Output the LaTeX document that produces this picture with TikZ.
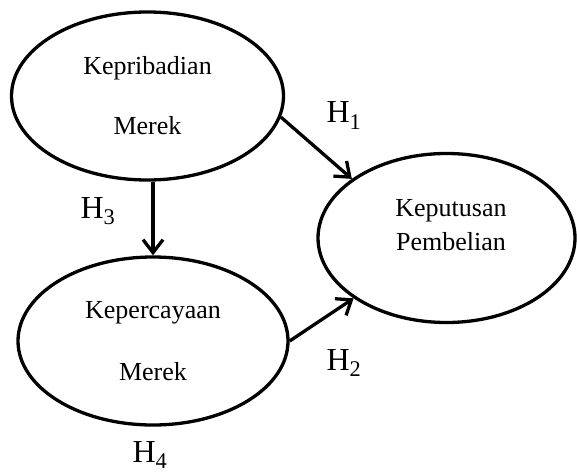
\documentclass[tikz,border=0pt]{standalone}
\usepackage{fontspec}
\setmainfont{Liberation Serif}
\usetikzlibrary{shapes.geometric,arrows.meta}
\tikzset{
	var/.style={ellipse,draw,line width=3.3pt,inner sep=0pt,align=center,font=\fontsize{26}{31}\selectfont},
	hyp/.style={anchor=base,inner sep=0pt,font=\fontsize{32}{38}\selectfont}
}
\begin{document}
\begin{tikzpicture}[x=1pt,y=-1pt,>={Straight Barb[length=13pt,width=20pt]}]
		\useasboundingbox (0,0) rectangle (577,473);
		\node [var,minimum width=272pt,minimum height=168pt] (kb) at (147.5,96) {Kepribadian\\[29pt]Merek};
		\node [var,minimum width=270pt,minimum height=168pt] (kc) at (153,341) {Kepercayaan\\[31pt]Merek};
		\node [var,minimum width=257pt,minimum height=169pt] (kp) at (446.5,238) {};
		\node [align=center,font=\fontsize{26}{31}\selectfont] (kpt) at (451,225) {Keputusan\\[3pt]Pembelian};
		\draw [line width=3.3pt,->] (kb.-9)--(kp.148);
		\draw [line width=3.3pt,->] (kc.east)--(kp.213);
		\draw [line width=3.3pt,->] (kc.north |- kb.south)--(kc.north);
		\node [hyp] (h1) at (344,123) {H\textsubscript{1}};
		\node [hyp] (h2) at (344,370) {H\textsubscript{2}};
		\node [hyp] (h3) at (98,218) {H\textsubscript{3}};
		\node [hyp] (h4) at (150,462) {H\textsubscript{4}};
		\end{tikzpicture}
\end{document}
